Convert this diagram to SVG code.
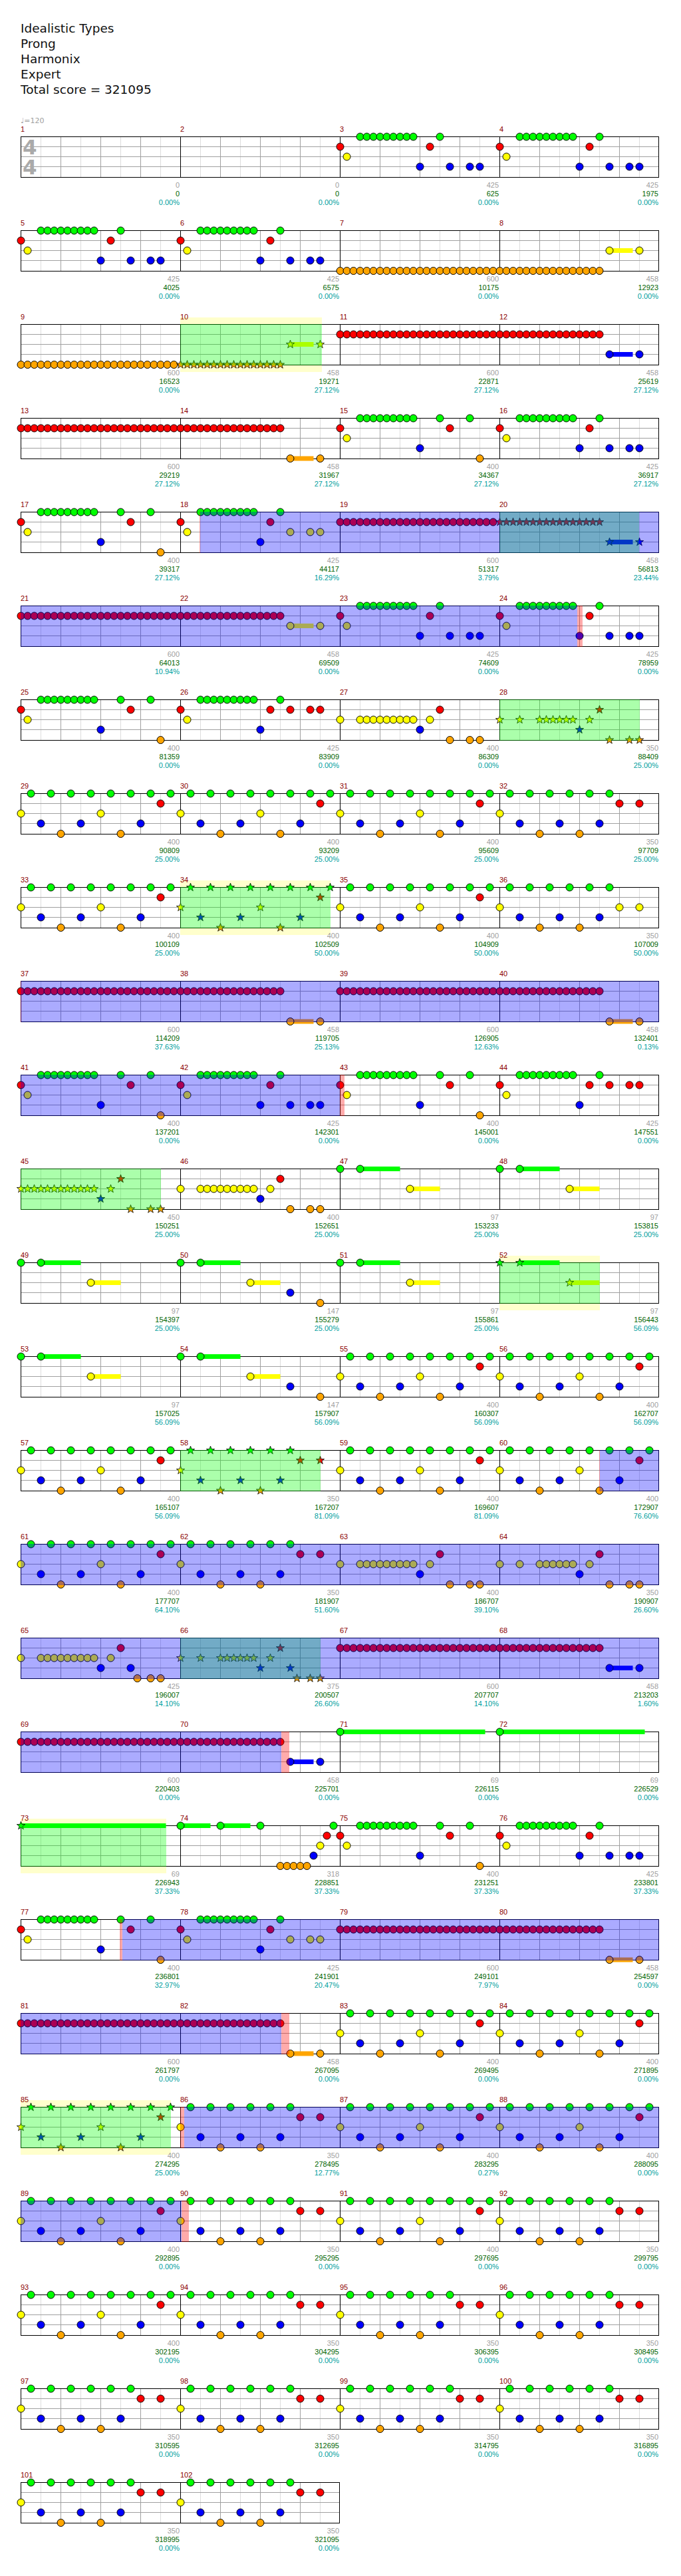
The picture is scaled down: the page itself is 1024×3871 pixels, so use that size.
<svg xmlns="http://www.w3.org/2000/svg" width="1024" height="3871" viewBox="0 0 1024 3871">
<style>
text{font-family:"Liberation Sans",Arial,sans-serif;font-size:11px}
.t{font-family:"DejaVu Sans",sans-serif;font-size:18.5px;fill:#111}
.ts{font-family:"DejaVu Sans",sans-serif;font-weight:bold;font-size:31px;fill:#aaa}
.n{stroke:#000;stroke-width:1}
.ns{stroke:#000;stroke-width:.8}
.mn{fill:#8b0000}
.s1{fill:#a0a0a0;text-anchor:end}
.s2{fill:#006400;text-anchor:end}
.s3{fill:#00a0a0;text-anchor:end}
.sp{fill:#0f0;fill-opacity:.33}
.od{fill:#00f;fill-opacity:.33}
.pk{fill:#f00;fill-opacity:.33}
.yb{fill:#ffffcc}
.vg{fill:#0f0}.vr{fill:#f00}.vy{fill:#ff0}.vb{fill:#00f}.vo{fill:#ffa500}
</style>
<defs>
<path id="st" d="M0-6.5 1.53-2.1 6.18-2 2.47.8 3.82 5.26 0 2.6-3.82 5.26-2.47.8-6.18-2-1.53-2.1Z"/>
<circle id="G" class="n" cx=".5" cy=".5" r="5.5" fill="#0f0"/>
<circle id="R" class="n" cx=".5" cy="15.5" r="5.5" fill="#f00"/>
<circle id="Y" class="n" cx=".5" cy="30.5" r="5.5" fill="#ff0"/>
<circle id="B" class="n" cx=".5" cy="45.5" r="5.5" fill="#00f"/>
<circle id="O" class="n" cx=".5" cy="61" r="5.5" fill="#ffa500"/>
<use id="sG" href="#st" class="ns" x=".5" y=".5" fill="#0f0"/>
<use id="sR" href="#st" class="ns" x=".5" y="15.5" fill="#f00"/>
<use id="sY" href="#st" class="ns" x=".5" y="30.5" fill="#ff0"/>
<use id="sB" href="#st" class="ns" x=".5" y="45.5" fill="#00f"/>
<use id="sO" href="#st" class="ns" x=".5" y="61" fill="#ffa500"/>
<g id="gm">
<rect width="240" height="62" fill="#fff"/>
<path d="M30.5 0V62M90.5 0V62M150.5 0V62M210.5 0V62" stroke="#ddd"/>
<path d="M0 15.5H240M0 30.5H240M0 45.5H240M60.5 0V62M120.5 0V62M180.5 0V62" stroke="#a0a0a0"/>
<path d="M.5 0V62M0 .5H240M0 61.5H240" stroke="#000"/>
</g>
<g id="row"><use href="#gm" x="31"/><use href="#gm" x="271"/><use href="#gm" x="511"/><use href="#gm" x="751"/><path d="M990.5 0v62" stroke="#000"/></g>
<g id="g9"><use href="#G" x="30"/><use href="#G" x="40"/><use href="#G" x="50"/><use href="#G" x="60"/><use href="#G" x="70"/><use href="#G" x="80"/><use href="#G" x="90"/><use href="#G" x="100"/><use href="#G" x="110"/></g>
<g id="y9"><use href="#Y" x="30"/><use href="#Y" x="40"/><use href="#Y" x="50"/><use href="#Y" x="60"/><use href="#Y" x="70"/><use href="#Y" x="80"/><use href="#Y" x="90"/><use href="#Y" x="100"/><use href="#Y" x="110"/></g>
<g id="P3"><use href="#R"/><use href="#Y" x="10"/><use href="#g9"/><use href="#B" x="120"/><use href="#R" x="135"/><use href="#G" x="150"/><use href="#B" x="165"/><use href="#B" x="195"/><use href="#B" x="210"/></g>
<g id="P15"><use href="#R"/><use href="#Y" x="10"/><use href="#g9"/><use href="#B" x="120"/><use href="#G" x="150"/><use href="#R" x="165"/><use href="#G" x="195"/><use href="#O" x="210"/></g>
<g id="P18"><use href="#R"/><use href="#Y" x="10"/><use href="#g9"/><use href="#B" x="120"/><use href="#R" x="135"/><use href="#G" x="150"/><use href="#Y" x="165"/><use href="#Y" x="195"/><use href="#Y" x="210"/></g>
<g id="P26"><use href="#R"/><use href="#Y" x="10"/><use href="#g9"/><use href="#B" x="120"/><use href="#R" x="135"/><use href="#G" x="150"/><use href="#R" x="165"/><use href="#R" x="195"/><use href="#R" x="210"/></g>
<g id="P27"><use href="#Y"/><use href="#y9"/><use href="#B" x="120"/><use href="#Y" x="135"/><use href="#R" x="150"/><use href="#O" x="165"/><use href="#O" x="195"/><use href="#O" x="210"/></g>
<g id="P28"><use href="#Y"/><use href="#Y" x="30"/><use href="#Y" x="60"/><use href="#Y" x="70"/><use href="#Y" x="80"/><use href="#Y" x="90"/><use href="#Y" x="100"/><use href="#Y" x="110"/><use href="#B" x="120"/><use href="#Y" x="135"/><use href="#R" x="150"/><use href="#O" x="165"/><use href="#O" x="195"/><use href="#O" x="210"/></g>
<g id="P29"><use href="#G" x="15"/><use href="#G" x="45"/><use href="#G" x="75"/><use href="#G" x="105"/><use href="#G" x="135"/><use href="#G" x="165"/><use href="#G" x="195"/><use href="#G" x="225"/><use href="#Y"/><use href="#B" x="30"/><use href="#O" x="60"/><use href="#B" x="90"/><use href="#Y" x="120"/><use href="#O" x="150"/><use href="#B" x="180"/><use href="#R" x="210"/></g>
<g id="sP29"><use href="#sG" x="15"/><use href="#sG" x="45"/><use href="#sG" x="75"/><use href="#sG" x="105"/><use href="#sG" x="135"/><use href="#sG" x="165"/><use href="#sG" x="195"/><use href="#sG" x="225"/><use href="#sY"/><use href="#sB" x="30"/><use href="#sO" x="60"/><use href="#sB" x="90"/><use href="#sY" x="120"/><use href="#sO" x="150"/><use href="#sB" x="180"/><use href="#sR" x="210"/></g>
<g id="g6"><use href="#G" x="15"/><use href="#G" x="45"/><use href="#G" x="75"/><use href="#G" x="105"/><use href="#G" x="135"/><use href="#G" x="165"/><use href="#Y"/><use href="#B" x="30"/><use href="#O" x="60"/><use href="#B" x="90"/><use href="#O" x="120"/><use href="#B" x="150"/></g>
<g id="P32"><use href="#g6"/><use href="#R" x="180"/><use href="#R" x="210"/></g>
<g id="P36"><use href="#g6"/><use href="#Y" x="180"/><use href="#Y" x="210"/></g>
<g id="RB"><use href="#R"/><use href="#R" x="10"/><use href="#R" x="20"/><use href="#R" x="30"/><use href="#R" x="40"/><use href="#R" x="50"/><use href="#R" x="60"/><use href="#R" x="70"/><use href="#R" x="80"/><use href="#R" x="90"/><use href="#R" x="100"/><use href="#R" x="110"/><use href="#R" x="120"/><use href="#R" x="130"/><use href="#R" x="140"/><use href="#R" x="150"/></g>
<g id="RA"><use href="#RB"/><use href="#R" x="160"/><use href="#R" x="170"/><use href="#R" x="180"/><use href="#R" x="190"/><use href="#R" x="200"/><use href="#R" x="210"/><use href="#R" x="220"/><use href="#R" x="230"/></g>
<g id="OB"><use href="#O"/><use href="#O" x="10"/><use href="#O" x="20"/><use href="#O" x="30"/><use href="#O" x="40"/><use href="#O" x="50"/><use href="#O" x="60"/><use href="#O" x="70"/><use href="#O" x="80"/><use href="#O" x="90"/><use href="#O" x="100"/><use href="#O" x="110"/><use href="#O" x="120"/><use href="#O" x="130"/><use href="#O" x="140"/><use href="#O" x="150"/></g>
<g id="OA"><use href="#OB"/><use href="#O" x="160"/><use href="#O" x="170"/><use href="#O" x="180"/><use href="#O" x="190"/><use href="#O" x="200"/><use href="#O" x="210"/><use href="#O" x="220"/><use href="#O" x="230"/></g>
<g id="tB"><rect class="vb" x="165.5" y="42" width="35" height="7"/><use href="#B" x="165"/><use href="#B" x="210"/></g>
<g id="tO"><rect class="vo" x="165.5" y="57.5" width="35" height="7"/><use href="#O" x="165"/><use href="#O" x="210"/></g>
<g id="tY"><rect class="vy" x="165.5" y="27" width="35" height="7"/><use href="#Y" x="165"/><use href="#Y" x="210"/></g>
<g id="P47"><rect class="vg" x="30.5" y="-3" width="60" height="7"/><rect class="vy" x="105.5" y="27" width="45" height="7"/><use href="#G"/><use href="#G" x="30"/><use href="#Y" x="105"/></g>
<g id="P50"><use href="#P47"/><use href="#B" x="165"/><use href="#O" x="210"/></g>
</defs>

<g id="bands">
<rect class="yb" x="271" y="477" width="213" height="82"/>
<rect class="yb" x="271" y="1323" width="226" height="82"/>
<rect class="yb" x="751" y="1887" width="151" height="82"/>
<rect class="yb" x="31" y="2733" width="219" height="82"/>
<rect class="yb" x="31" y="3156" width="226" height="82"/>
</g>

<g id="staves">
<use href="#row" y="205"/><use href="#row" y="346"/><use href="#row" y="487"/><use href="#row" y="628"/><use href="#row" y="769"/><use href="#row" y="910"/><use href="#row" y="1051"/><use href="#row" y="1192"/><use href="#row" y="1333"/><use href="#row" y="1474"/><use href="#row" y="1615"/><use href="#row" y="1756"/><use href="#row" y="1897"/><use href="#row" y="2038"/><use href="#row" y="2179"/><use href="#row" y="2320"/><use href="#row" y="2461"/><use href="#row" y="2602"/><use href="#row" y="2743"/><use href="#row" y="2884"/><use href="#row" y="3025"/><use href="#row" y="3166"/><use href="#row" y="3307"/><use href="#row" y="3448"/><use href="#row" y="3589"/>
<use href="#gm" x="31" y="3730"/><use href="#gm" x="271" y="3730"/><path d="M510.5 3730v62" stroke="#000"/>
</g>

<g id="header">
<text class="t" x="31" y="49">Idealistic Types</text>
<text class="t" x="31" y="72">Prong</text>
<text class="t" x="31" y="95">Harmonix</text>
<text class="t" x="31" y="118">Expert</text>
<text class="t" x="31" y="141">Total score = 321095</text>
<text x="31" y="185" fill="#a0a0a0" style="font-family:'DejaVu Sans',sans-serif;font-size:11px">♩=120</text>
</g>

<g id="measures">
<g id="m1" transform="translate(31,205)"><text class="ts" x="3" y="27">4</text><text class="ts" x="3" y="57">4</text><text class="mn" y="-7">1</text><text class="s1" x="239" y="77">0</text><text class="s2" x="239" y="90">0</text><text class="s3" x="239" y="103">0.00%</text></g>
<g id="m2" transform="translate(271,205)"><text class="mn" y="-7">2</text><text class="s1" x="239" y="77">0</text><text class="s2" x="239" y="90">0</text><text class="s3" x="239" y="103">0.00%</text></g>
<g id="m3" transform="translate(511,205)"><use href="#P3"/><text class="mn" y="-7">3</text><text class="s1" x="239" y="77">425</text><text class="s2" x="239" y="90">625</text><text class="s3" x="239" y="103">0.00%</text></g>
<g id="m4" transform="translate(751,205)"><use href="#P3"/><text class="mn" y="-7">4</text><text class="s1" x="239" y="77">425</text><text class="s2" x="239" y="90">1975</text><text class="s3" x="239" y="103">0.00%</text></g>
<g id="m5" transform="translate(31,346)"><use href="#P3"/><text class="mn" y="-7">5</text><text class="s1" x="239" y="77">425</text><text class="s2" x="239" y="90">4025</text><text class="s3" x="239" y="103">0.00%</text></g>
<g id="m6" transform="translate(271,346)"><use href="#P3"/><text class="mn" y="-7">6</text><text class="s1" x="239" y="77">425</text><text class="s2" x="239" y="90">6575</text><text class="s3" x="239" y="103">0.00%</text></g>
<g id="m7" transform="translate(511,346)"><use href="#OA"/><text class="mn" y="-7">7</text><text class="s1" x="239" y="77">600</text><text class="s2" x="239" y="90">10175</text><text class="s3" x="239" y="103">0.00%</text></g>
<g id="m8" transform="translate(751,346)"><use href="#OB"/><use href="#tY"/><text class="mn" y="-7">8</text><text class="s1" x="239" y="77">458</text><text class="s2" x="239" y="90">12923</text><text class="s3" x="239" y="103">0.00%</text></g>
<g id="m9" transform="translate(31,487)"><use href="#OA"/><text class="mn" y="-7">9</text><text class="s1" x="239" y="77">600</text><text class="s2" x="239" y="90">16523</text><text class="s3" x="239" y="103">0.00%</text></g>
<g id="m10" transform="translate(271,487)"><use href="#sO"/><use href="#sO" x="10"/><use href="#sO" x="20"/><use href="#sO" x="30"/><use href="#sO" x="40"/><use href="#sO" x="50"/><use href="#sO" x="60"/><use href="#sO" x="70"/><use href="#sO" x="80"/><use href="#sO" x="90"/><use href="#sO" x="100"/><use href="#sO" x="110"/><use href="#sO" x="120"/><use href="#sO" x="130"/><use href="#sO" x="140"/><use href="#sO" x="150"/><rect class="vy" x="165.5" y="27" width="35" height="7"/><use href="#sY" x="165"/><use href="#sY" x="210"/><text class="mn" y="-7">10</text><text class="s1" x="239" y="77">458</text><text class="s2" x="239" y="90">19271</text><text class="s3" x="239" y="103">27.12%</text></g>
<g id="m11" transform="translate(511,487)"><use href="#RA"/><text class="mn" y="-7">11</text><text class="s1" x="239" y="77">600</text><text class="s2" x="239" y="90">22871</text><text class="s3" x="239" y="103">27.12%</text></g>
<g id="m12" transform="translate(751,487)"><use href="#RB"/><use href="#tB"/><text class="mn" y="-7">12</text><text class="s1" x="239" y="77">458</text><text class="s2" x="239" y="90">25619</text><text class="s3" x="239" y="103">27.12%</text></g>
<g id="m13" transform="translate(31,628)"><use href="#RA"/><text class="mn" y="-7">13</text><text class="s1" x="239" y="77">600</text><text class="s2" x="239" y="90">29219</text><text class="s3" x="239" y="103">27.12%</text></g>
<g id="m14" transform="translate(271,628)"><use href="#RB"/><use href="#tO"/><text class="mn" y="-7">14</text><text class="s1" x="239" y="77">458</text><text class="s2" x="239" y="90">31967</text><text class="s3" x="239" y="103">27.12%</text></g>
<g id="m15" transform="translate(511,628)"><use href="#P15"/><text class="mn" y="-7">15</text><text class="s1" x="239" y="77">400</text><text class="s2" x="239" y="90">34367</text><text class="s3" x="239" y="103">27.12%</text></g>
<g id="m16" transform="translate(751,628)"><use href="#P3"/><text class="mn" y="-7">16</text><text class="s1" x="239" y="77">425</text><text class="s2" x="239" y="90">36917</text><text class="s3" x="239" y="103">27.12%</text></g>
<g id="m17" transform="translate(31,769)"><use href="#P15"/><text class="mn" y="-7">17</text><text class="s1" x="239" y="77">400</text><text class="s2" x="239" y="90">39317</text><text class="s3" x="239" y="103">27.12%</text></g>
<g id="m18" transform="translate(271,769)"><use href="#P18"/><text class="mn" y="-7">18</text><text class="s1" x="239" y="77">425</text><text class="s2" x="239" y="90">44117</text><text class="s3" x="239" y="103">16.29%</text></g>
<g id="m19" transform="translate(511,769)"><use href="#RA"/><text class="mn" y="-7">19</text><text class="s1" x="239" y="77">600</text><text class="s2" x="239" y="90">51317</text><text class="s3" x="239" y="103">3.79%</text></g>
<g id="m20" transform="translate(751,769)"><use href="#sR"/><use href="#sR" x="10"/><use href="#sR" x="20"/><use href="#sR" x="30"/><use href="#sR" x="40"/><use href="#sR" x="50"/><use href="#sR" x="60"/><use href="#sR" x="70"/><use href="#sR" x="80"/><use href="#sR" x="90"/><use href="#sR" x="100"/><use href="#sR" x="110"/><use href="#sR" x="120"/><use href="#sR" x="130"/><use href="#sR" x="140"/><use href="#sR" x="150"/><rect class="vb" x="165.5" y="42" width="35" height="7"/><use href="#sB" x="165"/><use href="#sB" x="210"/><text class="mn" y="-7">20</text><text class="s1" x="239" y="77">458</text><text class="s2" x="239" y="90">56813</text><text class="s3" x="239" y="103">23.44%</text></g>
<g id="m21" transform="translate(31,910)"><use href="#RA"/><text class="mn" y="-7">21</text><text class="s1" x="239" y="77">600</text><text class="s2" x="239" y="90">64013</text><text class="s3" x="239" y="103">10.94%</text></g>
<g id="m22" transform="translate(271,910)"><use href="#RB"/><use href="#tY"/><text class="mn" y="-7">22</text><text class="s1" x="239" y="77">458</text><text class="s2" x="239" y="90">69509</text><text class="s3" x="239" y="103">0.00%</text></g>
<g id="m23" transform="translate(511,910)"><use href="#P3"/><text class="mn" y="-7">23</text><text class="s1" x="239" y="77">425</text><text class="s2" x="239" y="90">74609</text><text class="s3" x="239" y="103">0.00%</text></g>
<g id="m24" transform="translate(751,910)"><use href="#P3"/><text class="mn" y="-7">24</text><text class="s1" x="239" y="77">425</text><text class="s2" x="239" y="90">78959</text><text class="s3" x="239" y="103">0.00%</text></g>
<g id="m25" transform="translate(31,1051)"><use href="#P15"/><text class="mn" y="-7">25</text><text class="s1" x="239" y="77">400</text><text class="s2" x="239" y="90">81359</text><text class="s3" x="239" y="103">0.00%</text></g>
<g id="m26" transform="translate(271,1051)"><use href="#P26"/><text class="mn" y="-7">26</text><text class="s1" x="239" y="77">425</text><text class="s2" x="239" y="90">83909</text><text class="s3" x="239" y="103">0.00%</text></g>
<g id="m27" transform="translate(511,1051)"><use href="#P27"/><text class="mn" y="-7">27</text><text class="s1" x="239" y="77">400</text><text class="s2" x="239" y="90">86309</text><text class="s3" x="239" y="103">0.00%</text></g>
<g id="m28" transform="translate(751,1051)"><use href="#sY"/><use href="#sY" x="30"/><use href="#sY" x="60"/><use href="#sY" x="70"/><use href="#sY" x="80"/><use href="#sY" x="90"/><use href="#sY" x="100"/><use href="#sY" x="110"/><use href="#sB" x="120"/><use href="#sY" x="135"/><use href="#sR" x="150"/><use href="#sO" x="165"/><use href="#sO" x="195"/><use href="#sO" x="210"/><text class="mn" y="-7">28</text><text class="s1" x="239" y="77">350</text><text class="s2" x="239" y="90">88409</text><text class="s3" x="239" y="103">25.00%</text></g>
<g id="m29" transform="translate(31,1192)"><use href="#P29"/><text class="mn" y="-7">29</text><text class="s1" x="239" y="77">400</text><text class="s2" x="239" y="90">90809</text><text class="s3" x="239" y="103">25.00%</text></g>
<g id="m30" transform="translate(271,1192)"><use href="#P29"/><text class="mn" y="-7">30</text><text class="s1" x="239" y="77">400</text><text class="s2" x="239" y="90">93209</text><text class="s3" x="239" y="103">25.00%</text></g>
<g id="m31" transform="translate(511,1192)"><use href="#P29"/><text class="mn" y="-7">31</text><text class="s1" x="239" y="77">400</text><text class="s2" x="239" y="90">95609</text><text class="s3" x="239" y="103">25.00%</text></g>
<g id="m32" transform="translate(751,1192)"><use href="#P32"/><text class="mn" y="-7">32</text><text class="s1" x="239" y="77">350</text><text class="s2" x="239" y="90">97709</text><text class="s3" x="239" y="103">25.00%</text></g>
<g id="m33" transform="translate(31,1333)"><use href="#P29"/><text class="mn" y="-7">33</text><text class="s1" x="239" y="77">400</text><text class="s2" x="239" y="90">100109</text><text class="s3" x="239" y="103">25.00%</text></g>
<g id="m34" transform="translate(271,1333)"><use href="#sP29"/><text class="mn" y="-7">34</text><text class="s1" x="239" y="77">400</text><text class="s2" x="239" y="90">102509</text><text class="s3" x="239" y="103">50.00%</text></g>
<g id="m35" transform="translate(511,1333)"><use href="#P29"/><text class="mn" y="-7">35</text><text class="s1" x="239" y="77">400</text><text class="s2" x="239" y="90">104909</text><text class="s3" x="239" y="103">50.00%</text></g>
<g id="m36" transform="translate(751,1333)"><use href="#P36"/><text class="mn" y="-7">36</text><text class="s1" x="239" y="77">350</text><text class="s2" x="239" y="90">107009</text><text class="s3" x="239" y="103">50.00%</text></g>
<g id="m37" transform="translate(31,1474)"><use href="#RA"/><text class="mn" y="-7">37</text><text class="s1" x="239" y="77">600</text><text class="s2" x="239" y="90">114209</text><text class="s3" x="239" y="103">37.63%</text></g>
<g id="m38" transform="translate(271,1474)"><use href="#RB"/><use href="#tO"/><text class="mn" y="-7">38</text><text class="s1" x="239" y="77">458</text><text class="s2" x="239" y="90">119705</text><text class="s3" x="239" y="103">25.13%</text></g>
<g id="m39" transform="translate(511,1474)"><use href="#RA"/><text class="mn" y="-7">39</text><text class="s1" x="239" y="77">600</text><text class="s2" x="239" y="90">126905</text><text class="s3" x="239" y="103">12.63%</text></g>
<g id="m40" transform="translate(751,1474)"><use href="#RB"/><use href="#tO"/><text class="mn" y="-7">40</text><text class="s1" x="239" y="77">458</text><text class="s2" x="239" y="90">132401</text><text class="s3" x="239" y="103">0.13%</text></g>
<g id="m41" transform="translate(31,1615)"><use href="#P15"/><text class="mn" y="-7">41</text><text class="s1" x="239" y="77">400</text><text class="s2" x="239" y="90">137201</text><text class="s3" x="239" y="103">0.00%</text></g>
<g id="m42" transform="translate(271,1615)"><use href="#P3"/><text class="mn" y="-7">42</text><text class="s1" x="239" y="77">425</text><text class="s2" x="239" y="90">142301</text><text class="s3" x="239" y="103">0.00%</text></g>
<g id="m43" transform="translate(511,1615)"><use href="#P15"/><text class="mn" y="-7">43</text><text class="s1" x="239" y="77">400</text><text class="s2" x="239" y="90">145001</text><text class="s3" x="239" y="103">0.00%</text></g>
<g id="m44" transform="translate(751,1615)"><use href="#P26"/><text class="mn" y="-7">44</text><text class="s1" x="239" y="77">425</text><text class="s2" x="239" y="90">147551</text><text class="s3" x="239" y="103">0.00%</text></g>
<g id="m45" transform="translate(31,1756)"><use href="#sY"/><use href="#sY" x="10"/><use href="#sY" x="20"/><use href="#sY" x="30"/><use href="#sY" x="40"/><use href="#sY" x="50"/><use href="#sY" x="60"/><use href="#sY" x="70"/><use href="#sY" x="80"/><use href="#sY" x="90"/><use href="#sY" x="100"/><use href="#sY" x="110"/><use href="#sB" x="120"/><use href="#sY" x="135"/><use href="#sR" x="150"/><use href="#sO" x="165"/><use href="#sO" x="195"/><use href="#sO" x="210"/><text class="mn" y="-7">45</text><text class="s1" x="239" y="77">450</text><text class="s2" x="239" y="90">150251</text><text class="s3" x="239" y="103">25.00%</text></g>
<g id="m46" transform="translate(271,1756)"><use href="#P27"/><text class="mn" y="-7">46</text><text class="s1" x="239" y="77">400</text><text class="s2" x="239" y="90">152651</text><text class="s3" x="239" y="103">25.00%</text></g>
<g id="m47" transform="translate(511,1756)"><use href="#P47"/><text class="mn" y="-7">47</text><text class="s1" x="239" y="77">97</text><text class="s2" x="239" y="90">153233</text><text class="s3" x="239" y="103">25.00%</text></g>
<g id="m48" transform="translate(751,1756)"><use href="#P47"/><text class="mn" y="-7">48</text><text class="s1" x="239" y="77">97</text><text class="s2" x="239" y="90">153815</text><text class="s3" x="239" y="103">25.00%</text></g>
<g id="m49" transform="translate(31,1897)"><use href="#P47"/><text class="mn" y="-7">49</text><text class="s1" x="239" y="77">97</text><text class="s2" x="239" y="90">154397</text><text class="s3" x="239" y="103">25.00%</text></g>
<g id="m50" transform="translate(271,1897)"><use href="#P50"/><text class="mn" y="-7">50</text><text class="s1" x="239" y="77">147</text><text class="s2" x="239" y="90">155279</text><text class="s3" x="239" y="103">25.00%</text></g>
<g id="m51" transform="translate(511,1897)"><use href="#P47"/><text class="mn" y="-7">51</text><text class="s1" x="239" y="77">97</text><text class="s2" x="239" y="90">155861</text><text class="s3" x="239" y="103">25.00%</text></g>
<g id="m52" transform="translate(751,1897)"><rect class="vg" x="30.5" y="-3" width="60" height="7"/><rect class="vy" x="105.5" y="27" width="45" height="7"/><use href="#sG"/><use href="#sG" x="30"/><use href="#sY" x="105"/><text class="mn" y="-7">52</text><text class="s1" x="239" y="77">97</text><text class="s2" x="239" y="90">156443</text><text class="s3" x="239" y="103">56.09%</text></g>
<g id="m53" transform="translate(31,2038)"><use href="#P47"/><text class="mn" y="-7">53</text><text class="s1" x="239" y="77">97</text><text class="s2" x="239" y="90">157025</text><text class="s3" x="239" y="103">56.09%</text></g>
<g id="m54" transform="translate(271,2038)"><use href="#P50"/><text class="mn" y="-7">54</text><text class="s1" x="239" y="77">147</text><text class="s2" x="239" y="90">157907</text><text class="s3" x="239" y="103">56.09%</text></g>
<g id="m55" transform="translate(511,2038)"><use href="#P29"/><text class="mn" y="-7">55</text><text class="s1" x="239" y="77">400</text><text class="s2" x="239" y="90">160307</text><text class="s3" x="239" y="103">56.09%</text></g>
<g id="m56" transform="translate(751,2038)"><use href="#P29"/><text class="mn" y="-7">56</text><text class="s1" x="239" y="77">400</text><text class="s2" x="239" y="90">162707</text><text class="s3" x="239" y="103">56.09%</text></g>
<g id="m57" transform="translate(31,2179)"><use href="#P29"/><text class="mn" y="-7">57</text><text class="s1" x="239" y="77">400</text><text class="s2" x="239" y="90">165107</text><text class="s3" x="239" y="103">56.09%</text></g>
<g id="m58" transform="translate(271,2179)"><use href="#sG" x="15"/><use href="#sG" x="45"/><use href="#sG" x="75"/><use href="#sG" x="105"/><use href="#sG" x="135"/><use href="#sG" x="165"/><use href="#sY"/><use href="#sB" x="30"/><use href="#sO" x="60"/><use href="#sB" x="90"/><use href="#sO" x="120"/><use href="#sB" x="150"/><use href="#sR" x="180"/><use href="#sR" x="210"/><text class="mn" y="-7">58</text><text class="s1" x="239" y="77">350</text><text class="s2" x="239" y="90">167207</text><text class="s3" x="239" y="103">81.09%</text></g>
<g id="m59" transform="translate(511,2179)"><use href="#P29"/><text class="mn" y="-7">59</text><text class="s1" x="239" y="77">400</text><text class="s2" x="239" y="90">169607</text><text class="s3" x="239" y="103">81.09%</text></g>
<g id="m60" transform="translate(751,2179)"><use href="#P29"/><text class="mn" y="-7">60</text><text class="s1" x="239" y="77">400</text><text class="s2" x="239" y="90">172907</text><text class="s3" x="239" y="103">76.60%</text></g>
<g id="m61" transform="translate(31,2320)"><use href="#P29"/><text class="mn" y="-7">61</text><text class="s1" x="239" y="77">400</text><text class="s2" x="239" y="90">177707</text><text class="s3" x="239" y="103">64.10%</text></g>
<g id="m62" transform="translate(271,2320)"><use href="#P32"/><text class="mn" y="-7">62</text><text class="s1" x="239" y="77">350</text><text class="s2" x="239" y="90">181907</text><text class="s3" x="239" y="103">51.60%</text></g>
<g id="m63" transform="translate(511,2320)"><use href="#P27"/><text class="mn" y="-7">63</text><text class="s1" x="239" y="77">400</text><text class="s2" x="239" y="90">186707</text><text class="s3" x="239" y="103">39.10%</text></g>
<g id="m64" transform="translate(751,2320)"><use href="#P28"/><text class="mn" y="-7">64</text><text class="s1" x="239" y="77">350</text><text class="s2" x="239" y="90">190907</text><text class="s3" x="239" y="103">26.60%</text></g>
<g id="m65" transform="translate(31,2461)"><use href="#Y"/><use href="#y9"/><use href="#B" x="120"/><use href="#Y" x="135"/><use href="#R" x="150"/><use href="#B" x="165"/><use href="#O" x="175"/><use href="#O" x="195"/><use href="#O" x="210"/><text class="mn" y="-7">65</text><text class="s1" x="239" y="77">425</text><text class="s2" x="239" y="90">196007</text><text class="s3" x="239" y="103">14.10%</text></g>
<g id="m66" transform="translate(271,2461)"><use href="#sY"/><use href="#sY" x="30"/><use href="#sY" x="60"/><use href="#sY" x="70"/><use href="#sY" x="80"/><use href="#sY" x="90"/><use href="#sY" x="100"/><use href="#sY" x="110"/><use href="#sB" x="120"/><use href="#sY" x="135"/><use href="#sR" x="150"/><use href="#sB" x="165"/><use href="#sO" x="175"/><use href="#sO" x="195"/><use href="#sO" x="210"/><text class="mn" y="-7">66</text><text class="s1" x="239" y="77">375</text><text class="s2" x="239" y="90">200507</text><text class="s3" x="239" y="103">26.60%</text></g>
<g id="m67" transform="translate(511,2461)"><use href="#RA"/><text class="mn" y="-7">67</text><text class="s1" x="239" y="77">600</text><text class="s2" x="239" y="90">207707</text><text class="s3" x="239" y="103">14.10%</text></g>
<g id="m68" transform="translate(751,2461)"><use href="#RB"/><use href="#tB"/><text class="mn" y="-7">68</text><text class="s1" x="239" y="77">458</text><text class="s2" x="239" y="90">213203</text><text class="s3" x="239" y="103">1.60%</text></g>
<g id="m69" transform="translate(31,2602)"><use href="#RA"/><text class="mn" y="-7">69</text><text class="s1" x="239" y="77">600</text><text class="s2" x="239" y="90">220403</text><text class="s3" x="239" y="103">0.00%</text></g>
<g id="m70" transform="translate(271,2602)"><use href="#RB"/><use href="#tB"/><text class="mn" y="-7">70</text><text class="s1" x="239" y="77">458</text><text class="s2" x="239" y="90">225701</text><text class="s3" x="239" y="103">0.00%</text></g>
<g id="m71" transform="translate(511,2602)"><rect class="vg" x=".5" y="-3" width="218" height="7"/><use href="#G"/><text class="mn" y="-7">71</text><text class="s1" x="239" y="77">69</text><text class="s2" x="239" y="90">226115</text><text class="s3" x="239" y="103">0.00%</text></g>
<g id="m72" transform="translate(751,2602)"><rect class="vg" x=".5" y="-3" width="218" height="7"/><use href="#G"/><text class="mn" y="-7">72</text><text class="s1" x="239" y="77">69</text><text class="s2" x="239" y="90">226529</text><text class="s3" x="239" y="103">0.00%</text></g>
<g id="m73" transform="translate(31,2743)"><rect class="vg" x=".5" y="-3" width="218" height="7"/><use href="#sG"/><text class="mn" y="-7">73</text><text class="s1" x="239" y="77">69</text><text class="s2" x="239" y="90">226943</text><text class="s3" x="239" y="103">37.33%</text></g>
<g id="m74" transform="translate(271,2743)"><rect class="vg" x=".5" y="-3" width="45" height="7"/><rect class="vg" x="60.5" y="-3" width="45" height="7"/><use href="#G"/><use href="#G" x="60"/><use href="#G" x="120"/><use href="#O" x="150"/><use href="#O" x="160"/><use href="#O" x="170"/><use href="#O" x="180"/><use href="#O" x="190"/><use href="#B" x="200"/><use href="#Y" x="210"/><use href="#R" x="220"/><use href="#G" x="230"/><text class="mn" y="-7">74</text><text class="s1" x="239" y="77">318</text><text class="s2" x="239" y="90">228851</text><text class="s3" x="239" y="103">37.33%</text></g>
<g id="m75" transform="translate(511,2743)"><use href="#P15"/><text class="mn" y="-7">75</text><text class="s1" x="239" y="77">400</text><text class="s2" x="239" y="90">231251</text><text class="s3" x="239" y="103">37.33%</text></g>
<g id="m76" transform="translate(751,2743)"><use href="#P3"/><text class="mn" y="-7">76</text><text class="s1" x="239" y="77">425</text><text class="s2" x="239" y="90">233801</text><text class="s3" x="239" y="103">37.33%</text></g>
<g id="m77" transform="translate(31,2884)"><use href="#P15"/><text class="mn" y="-7">77</text><text class="s1" x="239" y="77">400</text><text class="s2" x="239" y="90">236801</text><text class="s3" x="239" y="103">32.97%</text></g>
<g id="m78" transform="translate(271,2884)"><use href="#P18"/><text class="mn" y="-7">78</text><text class="s1" x="239" y="77">425</text><text class="s2" x="239" y="90">241901</text><text class="s3" x="239" y="103">20.47%</text></g>
<g id="m79" transform="translate(511,2884)"><use href="#RA"/><text class="mn" y="-7">79</text><text class="s1" x="239" y="77">600</text><text class="s2" x="239" y="90">249101</text><text class="s3" x="239" y="103">7.97%</text></g>
<g id="m80" transform="translate(751,2884)"><use href="#RB"/><use href="#tO"/><text class="mn" y="-7">80</text><text class="s1" x="239" y="77">458</text><text class="s2" x="239" y="90">254597</text><text class="s3" x="239" y="103">0.00%</text></g>
<g id="m81" transform="translate(31,3025)"><use href="#RA"/><text class="mn" y="-7">81</text><text class="s1" x="239" y="77">600</text><text class="s2" x="239" y="90">261797</text><text class="s3" x="239" y="103">0.00%</text></g>
<g id="m82" transform="translate(271,3025)"><use href="#RB"/><use href="#tO"/><text class="mn" y="-7">82</text><text class="s1" x="239" y="77">458</text><text class="s2" x="239" y="90">267095</text><text class="s3" x="239" y="103">0.00%</text></g>
<g id="m83" transform="translate(511,3025)"><use href="#P29"/><text class="mn" y="-7">83</text><text class="s1" x="239" y="77">400</text><text class="s2" x="239" y="90">269495</text><text class="s3" x="239" y="103">0.00%</text></g>
<g id="m84" transform="translate(751,3025)"><use href="#P29"/><text class="mn" y="-7">84</text><text class="s1" x="239" y="77">400</text><text class="s2" x="239" y="90">271895</text><text class="s3" x="239" y="103">0.00%</text></g>
<g id="m85" transform="translate(31,3166)"><use href="#sP29"/><text class="mn" y="-7">85</text><text class="s1" x="239" y="77">400</text><text class="s2" x="239" y="90">274295</text><text class="s3" x="239" y="103">25.00%</text></g>
<g id="m86" transform="translate(271,3166)"><use href="#P32"/><text class="mn" y="-7">86</text><text class="s1" x="239" y="77">350</text><text class="s2" x="239" y="90">278495</text><text class="s3" x="239" y="103">12.77%</text></g>
<g id="m87" transform="translate(511,3166)"><use href="#P29"/><text class="mn" y="-7">87</text><text class="s1" x="239" y="77">400</text><text class="s2" x="239" y="90">283295</text><text class="s3" x="239" y="103">0.27%</text></g>
<g id="m88" transform="translate(751,3166)"><use href="#P29"/><text class="mn" y="-7">88</text><text class="s1" x="239" y="77">400</text><text class="s2" x="239" y="90">288095</text><text class="s3" x="239" y="103">0.00%</text></g>
<g id="m89" transform="translate(31,3307)"><use href="#P29"/><text class="mn" y="-7">89</text><text class="s1" x="239" y="77">400</text><text class="s2" x="239" y="90">292895</text><text class="s3" x="239" y="103">0.00%</text></g>
<g id="m90" transform="translate(271,3307)"><use href="#P32"/><text class="mn" y="-7">90</text><text class="s1" x="239" y="77">350</text><text class="s2" x="239" y="90">295295</text><text class="s3" x="239" y="103">0.00%</text></g>
<g id="m91" transform="translate(511,3307)"><use href="#P29"/><text class="mn" y="-7">91</text><text class="s1" x="239" y="77">400</text><text class="s2" x="239" y="90">297695</text><text class="s3" x="239" y="103">0.00%</text></g>
<g id="m92" transform="translate(751,3307)"><use href="#P32"/><text class="mn" y="-7">92</text><text class="s1" x="239" y="77">350</text><text class="s2" x="239" y="90">299795</text><text class="s3" x="239" y="103">0.00%</text></g>
<g id="m93" transform="translate(31,3448)"><use href="#P29"/><text class="mn" y="-7">93</text><text class="s1" x="239" y="77">400</text><text class="s2" x="239" y="90">302195</text><text class="s3" x="239" y="103">0.00%</text></g>
<g id="m94" transform="translate(271,3448)"><use href="#P32"/><text class="mn" y="-7">94</text><text class="s1" x="239" y="77">350</text><text class="s2" x="239" y="90">304295</text><text class="s3" x="239" y="103">0.00%</text></g>
<g id="m95" transform="translate(511,3448)"><use href="#P32"/><text class="mn" y="-7">95</text><text class="s1" x="239" y="77">350</text><text class="s2" x="239" y="90">306395</text><text class="s3" x="239" y="103">0.00%</text></g>
<g id="m96" transform="translate(751,3448)"><use href="#P32"/><text class="mn" y="-7">96</text><text class="s1" x="239" y="77">350</text><text class="s2" x="239" y="90">308495</text><text class="s3" x="239" y="103">0.00%</text></g>
<g id="m97" transform="translate(31,3589)"><use href="#P32"/><text class="mn" y="-7">97</text><text class="s1" x="239" y="77">350</text><text class="s2" x="239" y="90">310595</text><text class="s3" x="239" y="103">0.00%</text></g>
<g id="m98" transform="translate(271,3589)"><use href="#P32"/><text class="mn" y="-7">98</text><text class="s1" x="239" y="77">350</text><text class="s2" x="239" y="90">312695</text><text class="s3" x="239" y="103">0.00%</text></g>
<g id="m99" transform="translate(511,3589)"><use href="#P32"/><text class="mn" y="-7">99</text><text class="s1" x="239" y="77">350</text><text class="s2" x="239" y="90">314795</text><text class="s3" x="239" y="103">0.00%</text></g>
<g id="m100" transform="translate(751,3589)"><use href="#P32"/><text class="mn" y="-7">100</text><text class="s1" x="239" y="77">350</text><text class="s2" x="239" y="90">316895</text><text class="s3" x="239" y="103">0.00%</text></g>
<g id="m101" transform="translate(31,3730)"><use href="#P32"/><text class="mn" y="-7">101</text><text class="s1" x="239" y="77">350</text><text class="s2" x="239" y="90">318995</text><text class="s3" x="239" y="103">0.00%</text></g>
<g id="m102" transform="translate(271,3730)"><use href="#P32"/><text class="mn" y="-7">102</text><text class="s1" x="239" y="77">350</text><text class="s2" x="239" y="90">321095</text><text class="s3" x="239" y="103">0.00%</text></g>
</g>

<g id="overlays">
<rect class="sp" x="271" y="487" width="213" height="62"/>
<rect class="sp" x="751" y="769" width="210" height="62"/>
<rect class="sp" x="751" y="1051" width="211" height="62"/>
<rect class="sp" x="271" y="1333" width="226" height="62"/>
<rect class="sp" x="31" y="1756" width="211" height="62"/>
<rect class="sp" x="751" y="1897" width="151" height="62"/>
<rect class="sp" x="271" y="2179" width="211" height="62"/>
<rect class="sp" x="271" y="2461" width="211" height="62"/>
<rect class="sp" x="31" y="2743" width="219" height="62"/>
<rect class="sp" x="31" y="3166" width="226" height="62"/>
<rect class="od" x="301" y="769" width="690" height="62"/>
<rect class="od" x="31" y="910" width="837" height="62"/>
<rect class="od" x="31" y="1474" width="960" height="62"/>
<rect class="od" x="31" y="1615" width="480" height="62"/>
<rect class="od" x="902" y="2179" width="89" height="62"/>
<rect class="od" x="31" y="2320" width="960" height="62"/>
<rect class="od" x="31" y="2461" width="960" height="62"/>
<rect class="od" x="31" y="2602" width="392" height="62"/>
<rect class="od" x="184" y="2884" width="807" height="62"/>
<rect class="od" x="31" y="3025" width="392" height="62"/>
<rect class="od" x="277" y="3166" width="714" height="62"/>
<rect class="od" x="31" y="3307" width="242" height="62"/>
<rect class="pk" x="300" y="769" width="1" height="62"/>
<rect class="pk" x="868" y="910" width="8" height="62"/>
<rect class="pk" x="31" y="1474" width="1" height="62"/>
<rect class="pk" x="511" y="1615" width="7" height="62"/>
<rect class="pk" x="901" y="2179" width="1" height="62"/>
<rect class="pk" x="423" y="2602" width="12" height="62"/>
<rect class="pk" x="180" y="2884" width="4" height="62"/>
<rect class="pk" x="423" y="3025" width="12" height="62"/>
<rect class="pk" x="271" y="3166" width="6" height="62"/>
<rect class="pk" x="273" y="3307" width="11" height="62"/>
</g>
</svg>
